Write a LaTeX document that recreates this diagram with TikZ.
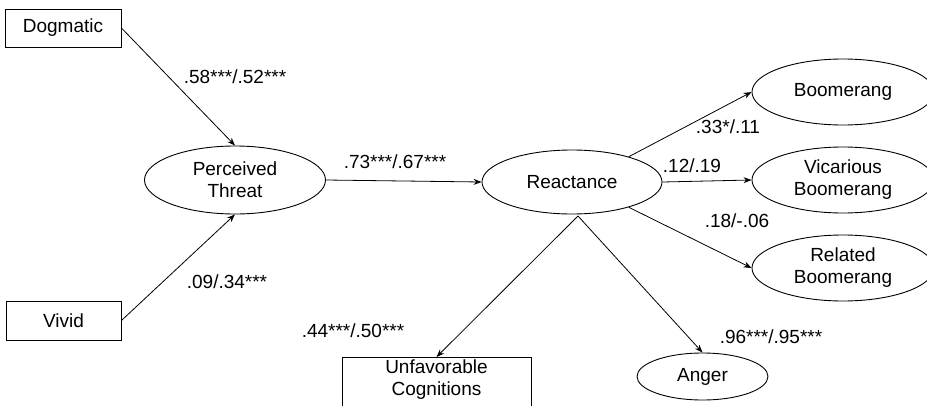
\documentclass[tikz,border=0pt]{standalone}
\usepackage{fontspec}
\setmainfont{Liberation Sans}
\usetikzlibrary{shapes.geometric,arrows.meta}
\tikzset{
  x=1pt,y=-1pt,
  every node/.style={font=\fontsize{19}{22}\selectfont, align=center, inner sep=0pt},
  boxnode/.style={draw, line width=0.9pt, rectangle},
  ellnode/.style={draw, line width=0.9pt, ellipse},
  conn/.style={line width=0.8pt, -{Stealth[length=8pt,width=6pt]}},
  lbl/.style={}
}
\begin{document}
\begin{tikzpicture}
\clip (0,0) rectangle (927,405);
\fill[white] (0,0) rectangle (927,405);
% nodes
\node[boxnode, minimum width=116pt, minimum height=38pt] (dog) at (63,28) {Dogmatic};
\node[boxnode, minimum width=115pt, minimum height=39pt] (viv) at (63.5,320.5) {Vivid};
\node[ellnode, minimum width=181pt, minimum height=68pt] (pt) at (235,180) {Perceived\\Threat};
\node[ellnode, minimum width=180pt, minimum height=64pt] (rea) at (572,182) {Reactance};
\node[ellnode, minimum width=182pt, minimum height=66pt] (boo) at (843,92) {Boomerang};
\node[ellnode, minimum width=182pt, minimum height=66pt] (vic) at (843,180) {Vicarious\\Boomerang};
\node[ellnode, minimum width=182pt, minimum height=66pt] (rel) at (843,268) {Related\\Boomerang};
\node[ellnode, minimum width=131pt, minimum height=47pt] (ang) at (702.5,376.5) {Anger};
\node[boxnode, minimum width=189pt, minimum height=60pt, anchor=north] (unf) at (436.5,357) {};
\node (unft) at (436.5,380) {Unfavorable\\Cognitions};
\coordinate (rb) at (578,216);
% connectors
\draw[conn] (dog.east) -- (pt.north);
\draw[conn] (viv.east) -- (pt.south);
\draw[conn] (pt.east) -- (rea.west);
\draw[conn] (rea.24) -- (boo.west);
\draw[conn] (rea.east) -- (vic.west);
\draw[conn] (rea.-24) -- (rel.west);
\draw[conn] (rb) -- (unf.north);
\draw[conn] (rb) -- (ang.north);
% labels
\node[lbl] (l1) at (235,77) {.58***/.52***};
\node[lbl] (l2) at (227,282) {.09/.34***};
\node[lbl] (l3) at (395,162) {.73***/.67***};
\node[lbl] (l4) at (353,331) {.44***/.50***};
\node[lbl] (l5) at (728,127) {.33*/.11};
\node[lbl] (l6) at (692,166) {.12/.19};
\node[lbl] (l7) at (737,221) {.18/-.06};
\node[lbl] (l8) at (771,337) {.96***/.95***};
\end{tikzpicture}
\end{document}
